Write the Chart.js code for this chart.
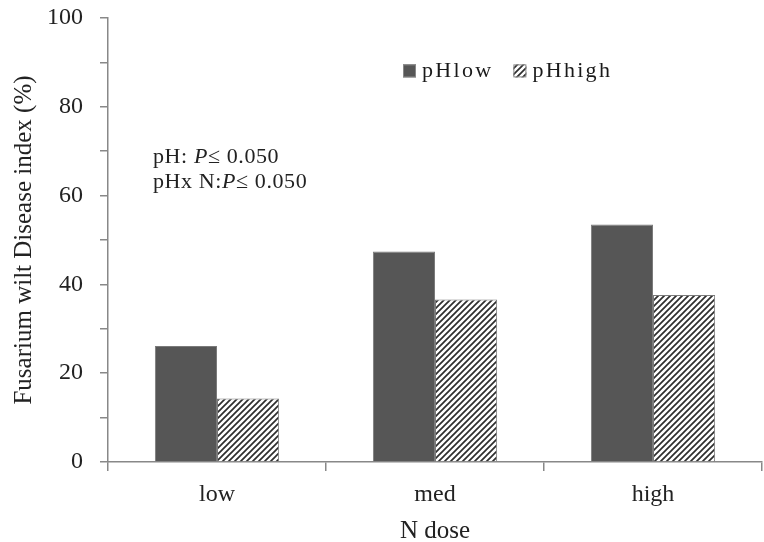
<!DOCTYPE html>
<html><head><meta charset="utf-8">
<script src="https://cdn.jsdelivr.net/npm/chart.js@4"></script>
<style>html,body{margin:0;padding:0;background:#fff}#wrap{width:764px;height:542px}</style>
</head><body><div id="wrap"><canvas id="c" width="764" height="542"></canvas></div>
<script>
const categories = ['low', 'med', 'high'];
const pHlow = [26.1, 47.4, 53.5];
const pHhigh = [14.3, 36.6, 37.6];
const seriesNames = ['pHlow', 'pHhigh'];
const annotationLines = ['pH: ', 'pHx N:'];

function hatch() {
  const s = 6, c = document.createElement('canvas');
  c.width = s; c.height = s;
  const g = c.getContext('2d');
  g.fillStyle = '#fff'; g.fillRect(0, 0, s, s);
  g.strokeStyle = '#2e2e2e'; g.lineWidth = 1.7;
  g.beginPath();
  g.moveTo(-1, s + 1); g.lineTo(s + 1, -1);
  g.moveTo(-1, 1); g.lineTo(1, -1);
  g.moveTo(s - 1, s + 1); g.lineTo(s + 1, s - 1);
  g.stroke();
  return g.createPattern(c, 'repeat');
}
const pat = hatch();
const SERIF = '"Liberation Serif", "Times New Roman", serif';

const overlay = {
  id: 'overlay',
  afterDraw(chart) {
    const ctx = chart.ctx, x = chart.scales.x, y = chart.scales.y;
    ctx.save();
    ctx.fillStyle = '#222';
    ctx.textBaseline = 'alphabetic';
    ctx.letterSpacing = '0.6px';
    const ax = x.left + 45;
    const lines = [y.getPixelForValue(67.3), y.getPixelForValue(61.7)];
    annotationLines.forEach((t, i) => {
      let cx = ax;
      ctx.font = '22px ' + SERIF;
      ctx.fillText(t, cx, lines[i]); cx += ctx.measureText(t).width;
      ctx.font = 'italic 22px ' + SERIF;
      ctx.fillText('P', cx, lines[i]); cx += ctx.measureText('P').width;
      ctx.font = '22px ' + SERIF;
      ctx.fillText('\u2264 0.050', cx, lines[i]);
    });
    // legend
    const ly = y.getPixelForValue(88.2);
    const items = [{ n: seriesNames[0], f: '#565656' }, { n: seriesNames[1], f: pat }];
    let lx = x.left + 295;
    ctx.font = '22px ' + SERIF;
    ctx.letterSpacing = '2.3px';
    items.forEach(it => {
      ctx.fillStyle = it.f;
      ctx.fillRect(lx, ly - 6, 13, 13);
      ctx.strokeStyle = '#888'; ctx.lineWidth = 1;
      ctx.strokeRect(lx + 0.5, ly - 5.5, 12, 12);
      ctx.fillStyle = '#1a1a1a';
      ctx.textBaseline = 'middle';
      ctx.fillText(it.n, lx + 19, ly + 1);
      lx += 19 + ctx.measureText(it.n).width + 20;
    });
    ctx.restore();
  }
};

new Chart(document.getElementById('c'), {
  type: 'bar',
  data: {
    labels: categories,
    datasets: [
      { label: seriesNames[0], data: pHlow, backgroundColor: '#565656', borderColor: '#7a7a7a', borderWidth: 1 },
      { label: seriesNames[1], data: pHhigh, backgroundColor: pat, borderColor: '#7a7a7a', borderWidth: 1 }
    ]
  },
  options: {
    responsive: false, animation: false,
    layout: { padding: { top: 18, right: 2, left: 0, bottom: 0 } },
    plugins: { legend: { display: false }, tooltip: { enabled: false } },
    datasets: { bar: { categoryPercentage: 0.57, barPercentage: 1.0 } },
    scales: {
      x: {
        grid: { offset: true, drawOnChartArea: false, drawTicks: true, tickLength: 9, color: '#888', lineWidth: 1.5 },
        border: { color: '#888', width: 1.5 },
        ticks: { color: '#222', font: { family: SERIF, size: 24 }, padding: 9 },
        title: { display: true, text: 'N dose', color: '#222', font: { family: SERIF, size: 25 }, padding: { top: 0, bottom: -4 } },
        afterFit(s) { s.height = 80; s.paddingLeft = 0; s.paddingRight = 0; }
      },
      y: {
        min: 0, max: 100,
        grid: { drawOnChartArea: false, drawTicks: true, tickLength: 8, color: '#888', lineWidth: 1.5 },
        border: { color: '#888', width: 1.5 },
        ticks: { stepSize: 10, color: '#222', font: { family: SERIF, size: 24 }, padding: 17,
          callback: v => (v % 20 === 0 ? v : '') },
        title: { display: true, text: 'Fusarium wilt Disease index (%)', color: '#222', font: { family: SERIF, size: 25 }, padding: { top: 9, bottom: 0 } },
        afterFit(s) { s.width = 108; s.paddingTop = 0; s.paddingBottom = 0; }
      }
    }
  },
  plugins: [overlay]
});
</script></body></html>
